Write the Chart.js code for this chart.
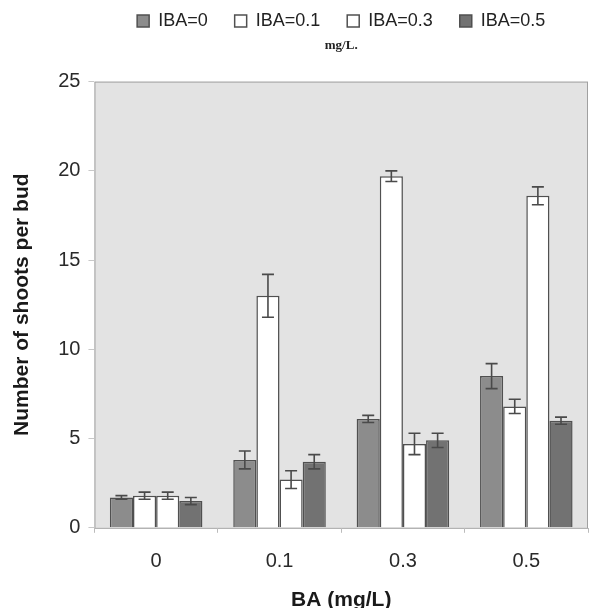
<!DOCTYPE html>
<html>
<head>
<meta charset="utf-8">
<script src="https://cdn.jsdelivr.net/npm/chart.js@4/dist/chart.umd.min.js"></script>
<style>
  body { margin: 0; background: #fff; }
  #wrap { width: 592px; height: 608px; }
</style>
</head>
<body>
<div id="wrap"><canvas id="barChart" width="592" height="608"></canvas></div>
<script>
// BA concentrations (x axis)
var baLevels = ["0", "0.1", "0.3", "0.5"];
var seriesNames = ["IBA=0", "IBA=0.1", "IBA=0.3", "IBA=0.5"];

// mean shoots per bud, one array per IBA level
var iba0 = [1.7, 3.8, 6.1, 8.5];
var iba01 = [1.8, 13.0, 19.7, 6.8];
var iba03 = [1.8, 2.7, 4.7, 18.6];
var iba05 = [1.5, 3.7, 4.9, 6.0];

// standard errors
var err0 = [0.1, 0.5, 0.2, 0.7];
var err01 = [0.2, 1.2, 0.3, 0.4];
var err03 = [0.2, 0.5, 0.6, 0.5];
var err05 = [0.2, 0.4, 0.4, 0.2];

var yTicks = [0, 5, 10, 15, 20, 25];

var fills = ["#8c8c8c", "#ffffff", "#ffffff", "#727272"];
var allValues = [iba0, iba01, iba03, iba05];
var allErrors = [err0, err01, err03, err05];

// gray plot background
var plotBg = {
    id: "plotBg",
    beforeDraw: function (chart) {
        var a = chart.chartArea, ctx = chart.ctx;
        ctx.save();
        ctx.fillStyle = "#e3e3e3";
        ctx.fillRect(a.left, a.top, a.right - a.left, a.bottom - a.top);
        ctx.strokeStyle = "#a0a0a0";
        ctx.lineWidth = 1;
        ctx.strokeRect(a.left + 0.5, a.top + 0.5, a.right - a.left - 1, a.bottom - a.top);
        ctx.restore();
    }
};

// error bars drawn from the dataset errors through the y scale
var errorBars = {
    id: "errorBars",
    afterDatasetsDraw: function (chart) {
        var ctx = chart.ctx, yScale = chart.scales.y;
        ctx.save();
        ctx.strokeStyle = "#4a4a4a";
        ctx.lineWidth = 1.6;
        chart.data.datasets.forEach(function (ds, i) {
            var meta = chart.getDatasetMeta(i);
            meta.data.forEach(function (bar, j) {
                var v = ds.data[j], e = ds.errors[j];
                var yHi = yScale.getPixelForValue(v + e);
                var yLo = yScale.getPixelForValue(v - e);
                var x = bar.x, cap = 6;
                ctx.beginPath();
                ctx.moveTo(x, yHi); ctx.lineTo(x, yLo);
                ctx.moveTo(x - cap, yHi); ctx.lineTo(x + cap, yHi);
                ctx.moveTo(x - cap, yLo); ctx.lineTo(x + cap, yLo);
                ctx.stroke();
            });
        });
        ctx.restore();
    }
};

var datasets = seriesNames.map(function (name, i) {
    return {
        label: name,
        data: allValues[i],
        errors: allErrors[i],
        backgroundColor: fills[i],
        borderColor: "#505050",
        borderWidth: 1.5,
        barPercentage: 1.0,
        categoryPercentage: 0.75
    };
});

Chart.defaults.font.family = "'Liberation Sans', Arial, sans-serif";
Chart.defaults.color = "#2a2a2a";

var barChart = new Chart(document.getElementById("barChart"), {
    type: "bar",
    data: { labels: baLevels, datasets: datasets },
    options: {
        responsive: false,
        animation: false,
        layout: { padding: { top: -15, right: 4, bottom: -5, left: 8 } },
        plugins: {
            legend: {
                display: true,
                position: "top",
                fullSize: false,
                labels: {
                    boxWidth: 12,
                    boxHeight: 12,
                    padding: 27,
                    color: "#222",
                    font: { size: 18 }
                }
            },
            subtitle: {
                display: true,
                text: "mg/L.",
                position: "top",
                fullSize: false,
                weight: 500,
                color: "#222",
                font: { family: "'Liberation Serif', 'Times New Roman', serif", size: 13, weight: "bold" },
                padding: { top: -2, bottom: 28 }
            },
            tooltip: { enabled: false }
        },
        scales: {
            x: {
                offset: true,
                grid: { drawOnChartArea: false, drawTicks: true, tickLength: 5, color: "#bbb", offset: true },
                border: { display: false },
                ticks: { font: { size: 20 }, color: "#2a2a2a", padding: 17 },
                title: {
                    display: true,
                    text: "BA (mg/L)",
                    font: { size: 21, weight: "bold" },
                    color: "#1a1a1a",
                    padding: { top: -3, bottom: 0 }
                }
            },
            y: {
                min: 0,
                max: 25,
                afterBuildTicks: function (axis) {
                    axis.ticks = yTicks.map(function (v) { return { value: v }; });
                },
                grid: { drawOnChartArea: false, drawTicks: true, tickLength: 6, color: "#c8c8c8" },
                border: { display: false },
                ticks: { font: { size: 20 }, color: "#2a2a2a", padding: 8 },
                title: {
                    display: true,
                    text: "Number of shoots per bud",
                    font: { size: 21, weight: "bold" },
                    color: "#1a1a1a",
                    padding: { top: 2, bottom: 15 }
                }
            }
        }
    },
    plugins: [plotBg, errorBars]
});
</script>
</body>
</html>
